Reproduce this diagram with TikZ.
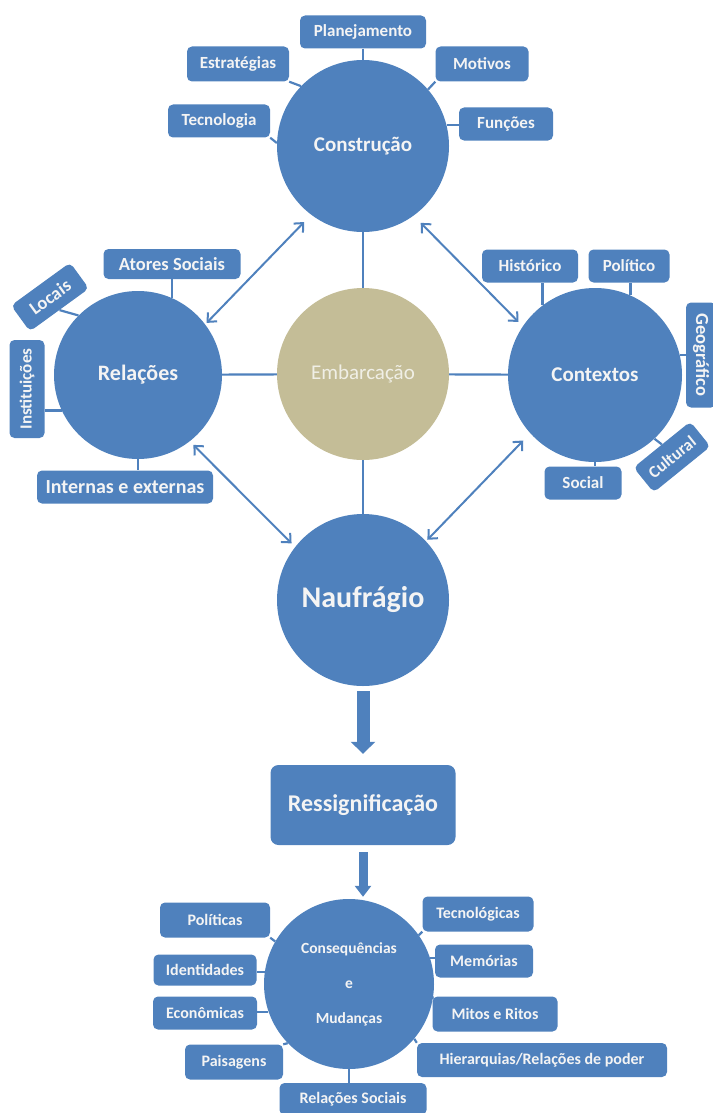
\documentclass[tikz,border=0pt]{standalone}
\usepackage{fontspec}
\setmainfont{Carlito}
\usetikzlibrary{arrows.meta}
\definecolor{hubblue}{RGB}{79,129,189}
\definecolor{shiptan}{RGB}{196,189,151}
\definecolor{shiptext}{RGB}{240,239,230}
\definecolor{paletext}{RGB}{244,244,244}

\begin{document}
\begin{tikzpicture}[x=1pt, y=-1pt,
  hub/.style={circle, fill=hubblue, text=paletext, minimum size=172pt, inner sep=0pt,
    font=\bfseries\fontsize{21}{24}\selectfont},
  subbox/.style={rectangle, rounded corners=5pt, fill=hubblue, text=paletext,
    minimum height=33pt, inner sep=0pt, font=\bfseries\fontsize{17}{19}\selectfont},
  big/.style={font=\bfseries\fontsize{18.5}{20}\selectfont},
  small/.style={font=\bfseries\fontsize{16}{18}\selectfont},
  spoke/.style={draw=hubblue, line width=2.2pt},
  twoway/.style={draw=hubblue, line width=2pt,
    {Straight Barb[length=7pt,width=13pt]}-{Straight Barb[length=7pt,width=13pt]}}]
  \useasboundingbox (0,0) rectangle (712,1113);

  % main circles
  \node[hub] (con) at (363,146) {Construção};
  \node[hub, minimum size=168pt, font=\bfseries\fontsize{22}{24}\selectfont] (rel) at (138,375) {Relações};
  \node[hub, fill=shiptan, text=shiptext, font=\fontsize{21}{24}\selectfont] (emb) at (363,374) {Embarcação};
  \node[hub, minimum size=174pt] (ctx) at (595,375) {Contextos};
  \node[hub, font=\bfseries\fontsize{30}{32}\selectfont] (nau) at (363,600) {Naufrágio};
  \node[subbox, rounded corners=8pt, minimum width=185pt, minimum height=80pt,
    font=\bfseries\fontsize{24}{26}\selectfont] (ress) at (363,805) {Ressignificação};
  \node[hub, minimum size=170pt, align=center, font=\bfseries\fontsize{15.5}{35}\selectfont]
    (csq) at (349,984) {Consequências\\e\\Mudanças};

  \foreach \n in {con,rel,ctx,nau}
    \draw[spoke] (emb) -- (\n);

  % Construção
  \node[subbox, minimum width=126pt] (plan) at (363,32) {Planejamento};
  \node[subbox, minimum width=102pt, minimum height=35pt] (estr) at (238,64) {Estratégias};
  \node[subbox, minimum width=93pt, minimum height=35pt] (motiv) at (482,64) {Motivos};
  \node[subbox, minimum width=102pt] (tecno) at (219,121) {Tecnologia};
  \node[subbox, minimum width=94pt] (func) at (506,124) {Funções};
  \draw[spoke] (plan) -- (con);
  \draw[spoke] (estr.south east) -- (con.136);
  \draw[spoke] (motiv.south west) -- (con.41);
  \draw[spoke] (tecno.south east) -- (con.178);
  \draw[spoke] (con.14) -- (con.14 -| func.west);

  % Relações
  \node[subbox, big, minimum width=137pt, minimum height=30pt] (ator) at (172,264) {Atores Sociais};
  \node[subbox, big, minimum width=73pt, minimum height=32pt, rotate=36] (loc) at (50,297) {Locais};
  \node[subbox, minimum width=98pt, minimum height=35pt, rotate=90] (inst) at (27,389) {Instituições};
  \node[subbox, font=\bfseries\fontsize{20}{22}\selectfont, minimum width=176pt] (intext) at (125,487) {Internas e externas};
  \draw[spoke] (rel.66) -- (rel.66 |- ator.south);
  \draw[spoke] (loc.south) -- (rel.135);
  \draw[spoke] (rel.205) -- (rel.205 -| inst.south);
  \draw[spoke] (rel.south) -- (rel.south |- intext.north);

  % Contextos
  \node[subbox, minimum width=96pt] (hist) at (530,266) {Histórico};
  \node[subbox, minimum width=81pt] (polc) at (629,266) {Político};
  \node[subbox, big, minimum width=105pt, minimum height=30pt, rotate=-90] (geo) at (701,355) {Geográfico};
  \node[subbox, minimum width=73pt, minimum height=32pt, rotate=39] (cult) at (672,457) {Cultural};
  \node[subbox, minimum width=77pt] (soc) at (583,483) {Social};
  \draw[spoke] (ctx.127) -- (ctx.127 |- hist.south);
  \draw[spoke] (ctx.66) -- (ctx.66 |- polc.south);
  \draw[spoke] (ctx.13) -- (ctx.13 -| geo.south);
  \draw[spoke] (cult.north) -- (ctx.-47);
  \draw[spoke] (ctx.south) -- (ctx.south |- soc.north);

  % arrows round the ship
  \draw[twoway, shorten <=2pt, shorten >=10pt] (rel.37) -- (con.233);
  \draw[twoway, shorten <=10pt, shorten >=6pt] (con.306) -- (ctx.146);
  \draw[twoway, shorten <=5pt, shorten >=5pt] (rel.-52) -- (nau.142);
  \draw[twoway, shorten <=10pt, shorten >=2pt] (ctx.222) -- (nau.43);

  \draw[hubblue, line width=13pt, -{Triangle[length=12pt,width=24pt]},
    shorten <=5pt, shorten >=11pt] (nau) -- (ress);
  \draw[hubblue, line width=9pt, -{Triangle[length=11pt,width=16pt]},
    shorten <=7pt, shorten >=2pt] (ress.south) -- (ress.south |- csq.north);

  % Consequências e Mudanças
  \node[subbox, small, minimum width=110pt, minimum height=35pt] (polit) at (215,920) {Políticas};
  \node[subbox, small, minimum width=103pt, minimum height=31pt] (ident) at (205,970) {Identidades};
  \node[subbox, small, minimum width=104pt] (econ) at (205,1013) {Econômicas};
  \node[subbox, small, minimum width=98pt, minimum height=35pt] (pais) at (234,1062) {Paisagens};
  \node[subbox, small, minimum width=147pt, minimum height=32pt] (relsoc) at (353,1099) {Relações Sociais};
  \node[subbox, small, minimum width=111pt, minimum height=35pt] (tecn) at (478,914) {Tecnológicas};
  \node[subbox, small, minimum width=98pt] (memo) at (484,961) {Memórias};
  \node[subbox, small, minimum width=125pt, minimum height=35pt] (mitos) at (495,1014) {Mitos e Ritos};
  \node[subbox, small, minimum width=250pt, minimum height=34pt] (hier) at (542,1060) {Hierarquias/Relações de poder};
  \draw[spoke] (polit.south east) -- (csq.150);
  \draw[spoke] (csq.172) -- (csq.172 -| ident.east);
  \draw[spoke] (csq.199) -- (csq.199 -| econ.east);
  \draw[spoke] (pais.north east) -- (csq.224);
  \draw[spoke] (csq.south) -- (csq.south |- relsoc.north);
  \draw[spoke] (tecn.south west) -- (csq.35);
  \draw[spoke] (csq.18) -- (csq.18 -| memo.west);
  \draw[spoke] (mitos.north west) -- (csq.-10);
  \draw[spoke] (hier.north west) -- (csq.-40);
\end{tikzpicture}
\end{document}
